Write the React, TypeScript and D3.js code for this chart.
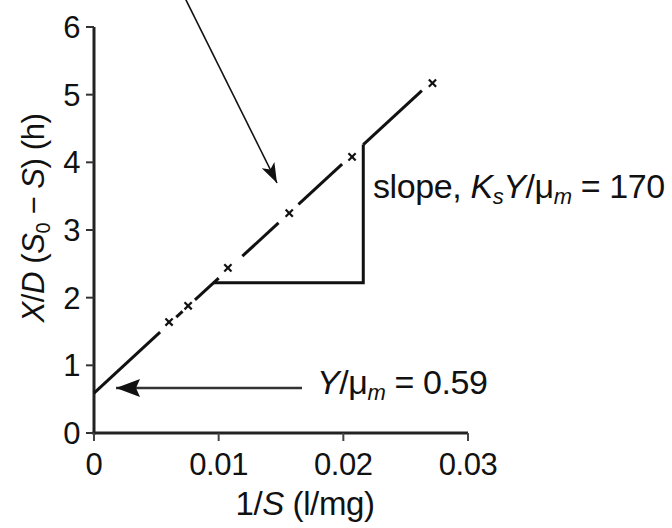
import React from "react";
import * as d3 from "d3";

const W = 672;
const H = 528;

// data
const xTicks = [0, 0.01, 0.02, 0.03];
const xTickLabels = ["0", "0.01", "0.02", "0.03"];
const yTicks = [0, 1, 2, 3, 4, 5, 6];
const pointX = [0.00602, 0.00755, 0.01074, 0.01566, 0.0207, 0.02715];
const pointY = [1.64, 1.88, 2.44, 3.25, 4.08, 5.17];
const intercept = 0.59;
const slope = 170;
// visible pieces of the fitted line (in 1/S units), broken around the markers
const segStart = [0, 0.0066, 0.0081, 0.0119, 0.0164, 0.0216];
const segEnd = [0.0053, 0.0071, 0.01, 0.0148, 0.0199, 0.0263];
// slope triangle
const triX = [0.0096, 0.0216];
const triY = 2.22;

const FONT = "'Liberation Sans', Arial, Helvetica, sans-serif";
const FS = 31;
const FA = 34;
const SUB = 20;
const SUBA = 22;

export default function App() {
  const x = d3.scaleLinear().domain([0, 0.03]).range([94, 468]);
  const y = d3.scaleLinear().domain([0, 6]).range([433, 27]);
  const fit = (v: number) => intercept + slope * v;
  const lineGen = d3
    .line<number>()
    .x((d) => x(d))
    .y((d) => y(fit(d)));

  const triPath = d3.line<[number, number]>()
    .x((d) => x(d[0]))
    .y((d) => y(d[1]))([
    [triX[0], triY],
    [triX[1], triY],
    [triX[1], fit(triX[1])],
  ]);

  const m = 3.6;
  return (
    <svg
      width={W}
      height={H}
      style={{ position: "fixed", left: 0, top: 0, background: "#fff" }}
      fontFamily={FONT}
      letterSpacing={-0.4}
    >
      <defs>
        <marker
          id="ah1"
          viewBox="0 0 20 14"
          refX="20"
          refY="7"
          markerWidth="20"
          markerHeight="14"
          markerUnits="userSpaceOnUse"
          orient="auto"
        >
          <path d="M0,0 L20,7 L0,14 L5,7 Z" fill="#111" />
        </marker>
        <marker
          id="ah2"
          viewBox="0 0 24 18"
          refX="24"
          refY="9"
          markerWidth="24"
          markerHeight="18"
          markerUnits="userSpaceOnUse"
          orient="auto"
        >
          <path d="M0,0 L24,9 L0,18 L4,9 Z" fill="#111" />
        </marker>
      </defs>

      {/* axes */}
      <line x1={x(0)} y1={y(6)} x2={x(0)} y2={y(0) + 1.5} stroke="#222" strokeWidth={3} />
      <line x1={x(0) - 1.5} y1={y(0)} x2={x(0.03)} y2={y(0)} stroke="#222" strokeWidth={3} />
      {yTicks.map((t) => (
        <g key={"yt" + t}>
          <line x1={x(0) - 8} x2={x(0)} y1={y(t)} y2={y(t)} stroke="#333" strokeWidth={2} />
          <text x={80} y={y(t)} dy="0.36em" textAnchor="end" fontSize={FS} fill="#111">
            {t}
          </text>
        </g>
      ))}
      {xTicks.map((t, i) => (
        <g key={"xt" + t}>
          <line x1={x(t)} x2={x(t)} y1={y(0)} y2={y(0) + 8} stroke="#444" strokeWidth={2} />
          <text x={x(t)} y={475} textAnchor="middle" fontSize={FS} fill="#111">
            {xTickLabels[i]}
          </text>
        </g>
      ))}

      {/* axis titles */}
      <text x={305} y={515} textAnchor="middle" fontSize={33} fill="#111">
        1/<tspan fontStyle="italic">S</tspan> (l/mg)
      </text>
      <text
        transform={`translate(44,218) rotate(-90)`}
        textAnchor="middle"
        fontSize={FS}
        fill="#111"
      >
        <tspan fontStyle="italic">X</tspan>/<tspan fontStyle="italic">D</tspan> (
        <tspan fontStyle="italic">S</tspan>
        <tspan fontSize={SUB} dy="6">0</tspan>
        <tspan dy="-6"> − </tspan>
        <tspan fontStyle="italic">S</tspan>) (h)
      </text>

      {/* fitted line pieces */}
      {segStart.map((s, i) => (
        <path
          key={"seg" + i}
          d={lineGen([s, segEnd[i]]) || ""}
          stroke="#111"
          strokeWidth={3}
          fill="none"
        />
      ))}

      {/* slope triangle */}
      <path d={triPath || ""} stroke="#111" strokeWidth={3} fill="none" strokeLinejoin="miter" />

      {/* data markers */}
      {pointX.map((px, i) => (
        <g key={"pt" + i} stroke="#111" strokeWidth={2.2}>
          <line x1={x(px) - m} y1={y(pointY[i]) - m} x2={x(px) + m} y2={y(pointY[i]) + m} />
          <line x1={x(px) - m} y1={y(pointY[i]) + m} x2={x(px) + m} y2={y(pointY[i]) - m} />
        </g>
      ))}

      {/* annotation arrows */}
      <line x1={185} y1={-2} x2={277} y2={183} stroke="#111" strokeWidth={1.6} markerEnd="url(#ah1)" />
      <line x1={302} y1={388} x2={116} y2={388} stroke="#333" strokeWidth={2.5} markerEnd="url(#ah2)" />

      {/* annotation texts */}
      <text x={373} y={198} fontSize={FA} fill="#111">
        slope, <tspan fontStyle="italic">K</tspan>
        <tspan fontStyle="italic" fontSize={SUBA} dy="6">s</tspan>
        <tspan fontStyle="italic" dy="-6">Y</tspan>/μ
        <tspan fontStyle="italic" fontSize={SUBA} dy="6">m</tspan>
        <tspan dy="-6"> = 170</tspan>
      </text>
      <text x={317} y={394} fontSize={FA} fill="#111">
        <tspan fontStyle="italic">Y</tspan>/μ
        <tspan fontStyle="italic" fontSize={SUBA} dy="6">m</tspan>
        <tspan dy="-6"> = 0.59</tspan>
      </text>
    </svg>
  );
}
